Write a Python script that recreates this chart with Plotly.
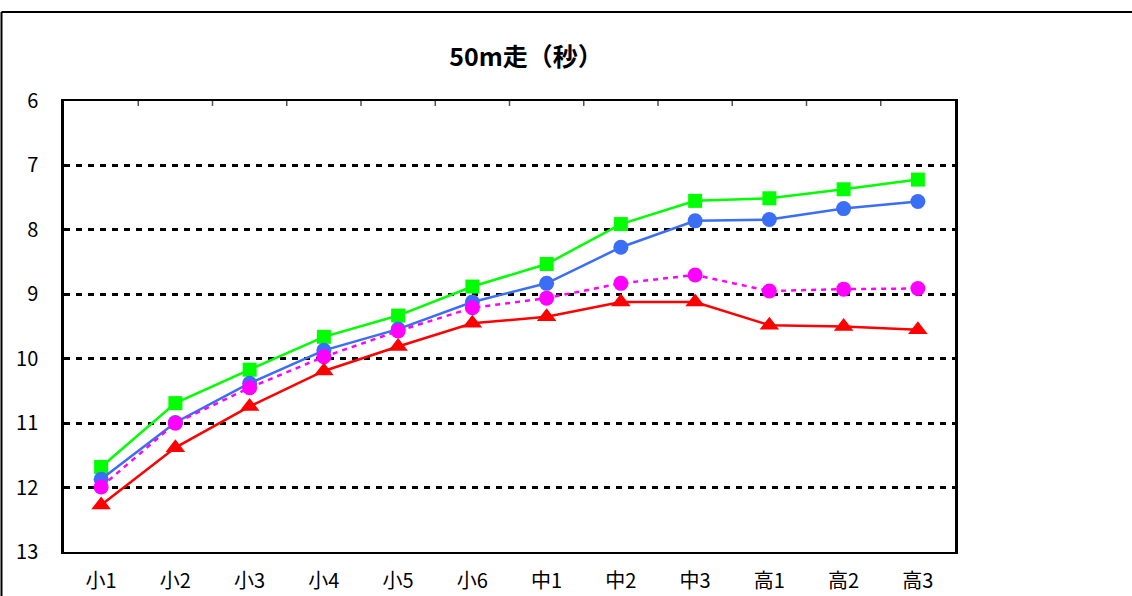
import plotly.graph_objects as go

categories = ["小1", "小2", "小3", "小4", "小5", "小6", "中1", "中2", "中3", "高1", "高2", "高3"]
green_vals = [11.68, 10.69, 10.17, 9.66, 9.33, 8.88, 8.53, 7.91, 7.55, 7.51, 7.37, 7.22]
blue_vals = [11.87, 10.99, 10.38, 9.87, 9.54, 9.12, 8.83, 8.27, 7.86, 7.84, 7.67, 7.56]
magenta_vals = [11.99, 11.00, 10.45, 9.97, 9.57, 9.21, 9.06, 8.83, 8.70, 8.95, 8.92, 8.91]
red_vals = [12.27, 11.38, 10.74, 10.19, 9.81, 9.45, 9.35, 9.12, 9.12, 9.48, 9.50, 9.55]
y_ticks = [6, 7, 8, 9, 10, 11, 12, 13]

W, H = 1132, 596
L, R, T, B = 64, 955, 101, 552
FONT = "Noto Sans CJK JP"

fig = go.Figure()

series = [
    (green_vals, "#00FF00", "square", "solid", 14),
    (blue_vals, "#3A6EF5", "circle", "solid", 15),
    (magenta_vals, "#FF00FF", "circle", "5px,5px", 15),
    (red_vals, "#FF0000", "triangle-up", "solid", 17),
]
for vals, col, sym, dash, size in series:
    fig.add_trace(go.Scatter(
        x=categories, y=vals, mode="lines+markers",
        line=dict(color=col, width=2.5, dash=dash),
        marker=dict(symbol=sym, size=size, color=col, line=dict(width=0)),
        showlegend=False, cliponaxis=False,
    ))

def px_x(px):
    return (px - L) / (R - L)

def px_y(py):
    return (B - py) / (B - T)

shapes = []
# outer chart border (left and top edges visible)
shapes.append(dict(type="line", xref="paper", yref="paper",
                   x0=px_x(1.5), x1=px_x(1.5), y0=px_y(12), y1=px_y(600),
                   line=dict(color="black", width=2)))
shapes.append(dict(type="line", xref="paper", yref="paper",
                   x0=px_x(1.5), x1=px_x(1140), y0=px_y(12), y1=px_y(12),
                   line=dict(color="black", width=2)))
# tick marks on top edge at category boundaries
for i in range(len(categories) - 1):
    shapes.append(dict(type="line", xref="x", yref="paper",
                       x0=i + 0.5, x1=i + 0.5, y0=1, y1=px_y(T + 5),
                       line=dict(color="#555555", width=1.5)))

fig.update_layout(
    width=W, height=H,
    margin=dict(l=L, r=W - R, t=T, b=H - B, autoexpand=False),
    paper_bgcolor="white", plot_bgcolor="white",
    title=dict(text="50m走（秒）", x=526 / W, y=1 - 57 / H,
               xanchor="center", yanchor="middle", automargin=False,
               font=dict(family=FONT, size=25, color="black", weight="bold")),
    font=dict(family=FONT, color="black"),
    shapes=shapes,
    xaxis=dict(
        type="category", range=[-0.5, 11.5], automargin=False,
        showline=True, linecolor="black", linewidth=2, mirror=True,
        showgrid=False, ticks="", ticklabelstandoff=10,
        tickfont=dict(family=FONT, size=20, color="black"),
    ),
    yaxis=dict(
        range=[13, 6], tickvals=y_ticks, ticktext=[str(v) for v in y_ticks],
        automargin=False,
        showline=True, linecolor="black", linewidth=2.5, mirror=True,
        showgrid=True, gridcolor="black", gridwidth=2.5, griddash="6px,6px",
        zeroline=False, ticks="", ticklabelstandoff=19,
        tickfont=dict(family=FONT, size=20, color="black"),
    ),
)

fig.write_html("out.html", config={"displayModeBar": False},
               post_script="document.body.style.margin='0';")
